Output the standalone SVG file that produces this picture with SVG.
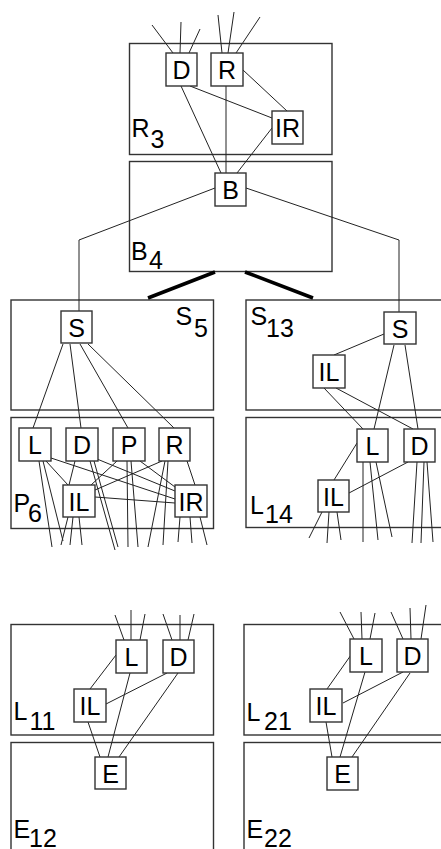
<svg xmlns="http://www.w3.org/2000/svg" width="441" height="849" viewBox="0 0 441 849">
<style>
.frame{fill:#fff;stroke:#333;stroke-width:1.4}
.nb{fill:#fff;stroke:#333;stroke-width:1.4}
.nt{font-family:"Liberation Sans",Arial,sans-serif;font-size:25px;fill:#000;text-anchor:middle}
.lb{font-family:"Liberation Sans",Arial,sans-serif;font-size:25px;fill:#000}
.e{stroke:#222;stroke-width:1;fill:none}
.thick{stroke:#000;stroke-width:3.5;fill:none}
</style>
<rect width="441" height="849" fill="#fff"/>
<g id="frames">
<g id="R3"><rect class="frame" x="129.5" y="43.5" width="202.5" height="111"/><text class="lb"><tspan x="131.5" y="137">R</tspan><tspan x="150.5" y="148">3</tspan></text></g>
<g id="B4"><rect class="frame" x="129.5" y="161.5" width="202.5" height="110"/><text class="lb"><tspan x="131" y="260">B</tspan><tspan x="149" y="269">4</tspan></text></g>
<g id="S5"><rect class="frame" x="11" y="300" width="202.5" height="110"/><text class="lb"><tspan x="175.5" y="325">S</tspan><tspan x="194" y="337">5</tspan></text></g>
<g id="S13"><rect class="frame" x="246" y="300" width="210" height="110"/><text class="lb"><tspan x="250.5" y="325">S</tspan><tspan x="266" y="336.5">13</tspan></text></g>
<g id="P6"><rect class="frame" x="11" y="417.5" width="202.5" height="111"/><text class="lb"><tspan x="13.5" y="511.5">P</tspan><tspan x="28" y="522">6</tspan></text></g>
<g id="L14"><rect class="frame" x="246" y="417.5" width="210" height="110"/><text class="lb"><tspan x="250" y="514">L</tspan><tspan x="265" y="523">14</tspan></text></g>
<g id="L11"><rect class="frame" x="11" y="624.5" width="202.5" height="110.5"/><text class="lb"><tspan x="13.5" y="720">L</tspan><tspan x="29.5" y="729.5">11</tspan></text></g>
<g id="E12"><rect class="frame" x="11" y="742.5" width="202.5" height="120"/><text class="lb"><tspan x="13.5" y="838">E</tspan><tspan x="29" y="846.5">12</tspan></text></g>
<g id="L21"><rect class="frame" x="244" y="624.5" width="212" height="110.5"/><text class="lb"><tspan x="246.5" y="720.5">L</tspan><tspan x="264" y="730">21</tspan></text></g>
<g id="E22"><rect class="frame" x="244" y="742.5" width="212" height="120"/><text class="lb"><tspan x="246.5" y="838">E</tspan><tspan x="264" y="846.5">22</tspan></text></g>
</g>
<g id="connectors">
<path class="e" d="M173,53L152,25M180,53L181,22M189,53L200,29"/>
<path class="e" d="M222,53L218,15M228,53L234,12M236,53L260,17"/>
<path class="e" d="M181,86L221,173M226,86L226,173M190,86L272,118M243,70L287,111M272,128L237,173"/>
<path class="e" d="M215,188L79,240L79,311M246,188L399,240L399,312"/>
<path class="thick" d="M215,272L148,298M245,272L313,298"/>
<path class="e" d="M63,344L33,428M70,344L81,428M80,344L128,428M88,344L174,428"/>
<path class="e" d="M46,461L68,485M75,461L69,485M117,461L91,485M162,461L95,490"/>
<path class="e" d="M51,458L175,499M97,459L175,491M140,461L175,487M187,461L195,485M95,497L175,503"/>
<path class="e" d="M39,461L52,547M43,461L63,541M68,517L61,545M73,517L70,545M79,517L82,545"/>
<path class="e" d="M90,461L115,550M94,461L118,547M127,461L128,547M131,461L138,547M165,461L148,547M168,461L163,545"/>
<path class="e" d="M180,517L178,542M190,517L192,543M200,517L207,545"/>
<path class="e" d="M384,334L334,355M394,345L374,429M405,345L418,429M324,388L363,429M336,388L413,429"/>
<path class="e" d="M357,443L334,480M408,462L349,493"/>
<path class="e" d="M363,462L363,542M370,462L378,540M376,462L392,537M417,462L412,543M424,462L421,543M427,462L433,542M322,512L309,538M329,512L327,543M337,512L341,540"/>
<path class="e" d="M124,640L115,615M131,640L131,610M140,640L145,614M172,640L163,614M180,640L180,615M188,640L194,614"/>
<path class="e" d="M116,655L90,689M167,673L106,704M130,673L108,757M178,673L119,757M88,722L100,757"/>
<path class="e" d="M354,639L340,612M362,639L361,612M370,639L375,613M403,639L391,612M411,639L410,608M421,639L426,605"/>
<path class="e" d="M351,655L327,689M403,672L343,703M365,672L340,757M410,673L352,757M326,722L332,757"/>
</g>
<g id="nodes">
<g id="R3-D"><rect class="nb" x="166" y="53" width="31" height="33"/><text class="nt" x="181.5" y="79">D</text></g>
<g id="R3-R"><rect class="nb" x="211" y="53" width="32" height="33"/><text class="nt" x="227" y="79">R</text></g>
<g id="R3-IR"><rect class="nb" x="272" y="111" width="31" height="33"/><text class="nt" x="287.5" y="137">IR</text></g>
<g id="B4-B"><rect class="nb" x="215" y="173" width="31" height="33"/><text class="nt" x="230.5" y="199">B</text></g>
<g id="S5-S"><rect class="nb" x="61" y="311" width="31" height="32"/><text class="nt" x="76.5" y="337">S</text></g>
<g id="S13-S"><rect class="nb" x="384" y="312" width="32" height="32"/><text class="nt" x="400" y="338">S</text></g>
<g id="S13-IL"><rect class="nb" x="313" y="355" width="32" height="33"/><text class="nt" x="329" y="381">IL</text></g>
<g id="P6-L"><rect class="nb" x="19" y="428" width="32" height="33"/><text class="nt" x="35" y="454">L</text></g>
<g id="P6-D"><rect class="nb" x="66" y="428" width="32" height="33"/><text class="nt" x="82" y="454">D</text></g>
<g id="P6-P"><rect class="nb" x="113" y="428" width="32" height="33"/><text class="nt" x="129" y="454">P</text></g>
<g id="P6-R"><rect class="nb" x="159" y="428" width="31" height="33"/><text class="nt" x="174.5" y="454">R</text></g>
<g id="P6-IL"><rect class="nb" x="63" y="485" width="32" height="32"/><text class="nt" x="79" y="511">IL</text></g>
<g id="P6-IR"><rect class="nb" x="175" y="485" width="32" height="32"/><text class="nt" x="191" y="511">IR</text></g>
<g id="L14-L"><rect class="nb" x="357" y="429" width="31" height="33"/><text class="nt" x="372.5" y="455">L</text></g>
<g id="L14-D"><rect class="nb" x="404" y="429" width="31" height="33"/><text class="nt" x="419.5" y="455">D</text></g>
<g id="L14-IL"><rect class="nb" x="318" y="480" width="31" height="32"/><text class="nt" x="333.5" y="506">IL</text></g>
<g id="L11-L"><rect class="nb" x="116" y="640" width="31" height="33"/><text class="nt" x="131.5" y="666">L</text></g>
<g id="L11-D"><rect class="nb" x="163" y="640" width="31" height="33"/><text class="nt" x="178.5" y="666">D</text></g>
<g id="L11-IL"><rect class="nb" x="74" y="689" width="32" height="33"/><text class="nt" x="90" y="715">IL</text></g>
<g id="E12-E"><rect class="nb" x="95" y="757" width="31" height="32"/><text class="nt" x="110.5" y="783">E</text></g>
<g id="L21-L"><rect class="nb" x="350" y="639" width="32" height="33"/><text class="nt" x="366" y="665">L</text></g>
<g id="L21-D"><rect class="nb" x="397" y="639" width="31" height="33"/><text class="nt" x="412.5" y="665">D</text></g>
<g id="L21-IL"><rect class="nb" x="310" y="689" width="32" height="33"/><text class="nt" x="326" y="715">IL</text></g>
<g id="E22-E"><rect class="nb" x="327" y="757" width="31" height="33"/><text class="nt" x="342.5" y="783">E</text></g>
</g>
</svg>
